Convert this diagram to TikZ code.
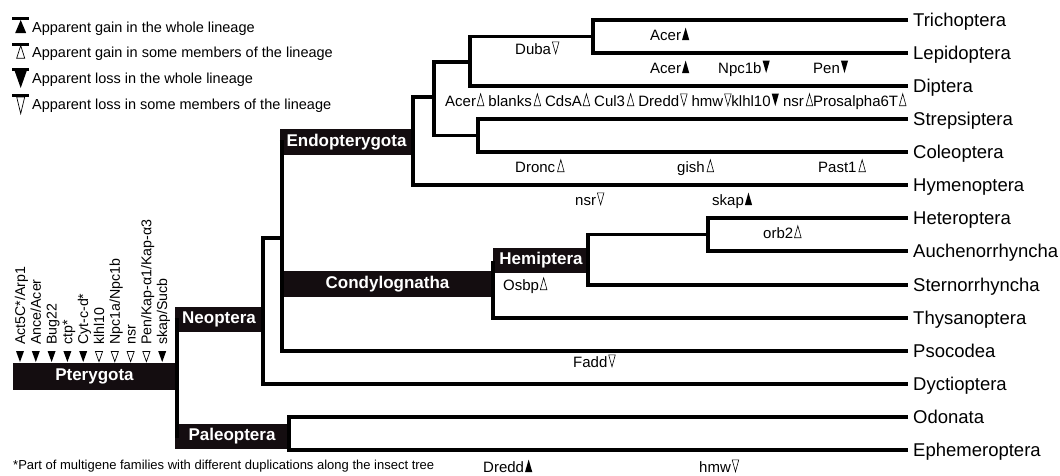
\documentclass[tikz,border=0pt]{standalone}
\usepackage{fontspec}
\setmainfont{Liberation Sans}
\definecolor{boxblack}{HTML}{140D10}
\newcommand\gnF{\tikz[baseline=0pt]\fill (0pt,0pt)--(3.6pt,12.5pt)--(7.2pt,0pt)--cycle;}
\newcommand\gnO{\tikz[baseline=0pt]\draw[line width=0.6pt] (0.3pt,0.3pt)--(3.6pt,12.2pt)--(6.9pt,0.3pt)--cycle;}
\newcommand\lsF{\tikz[baseline=0pt]\fill (0pt,12.5pt)--(3.6pt,0pt)--(7.2pt,12.5pt)--cycle;}
\newcommand\lsO{\tikz[baseline=0pt]\draw[line width=0.6pt] (0.3pt,12.2pt)--(3.6pt,0.3pt)--(6.9pt,12.2pt)--cycle;}
\newcommand\lgGF{\tikz[baseline=0pt]{\fill (0pt,12pt) rectangle (17pt,15pt); \fill (3pt,-1pt)--(8.5pt,12pt)--(14pt,-1pt)--cycle;}}
\newcommand\lgGO{\tikz[baseline=0pt]{\fill (0pt,12pt) rectangle (17pt,15pt); \draw[line width=0.7pt] (4.5pt,-0.65pt)--(8.5pt,12pt)--(12.5pt,-0.65pt)--cycle;}}
\newcommand\lgLF{\tikz[baseline=0pt]{\fill (0pt,12pt) rectangle (17pt,15pt); \fill (2.5pt,12pt)--(8.5pt,-5pt)--(14.5pt,12pt)--cycle;}}
\newcommand\lgLO{\tikz[baseline=0pt]{\fill (0pt,12pt) rectangle (17pt,15pt); \draw[line width=0.7pt] (4.5pt,12pt)--(8.5pt,-4.6pt)--(12.5pt,12pt)--cycle;}}
\begin{document}
\begin{tikzpicture}[x=1pt,y=-1pt,
  br/.style={line width=3.8pt},
  tip/.style={anchor=west, inner xsep=5pt, inner ysep=0pt, text height=13.2pt, text depth=0pt, font=\fontsize{18.5}{21}\selectfont},
  grp/.style={fill=boxblack, text=white, font=\bfseries\fontsize{17}{20}\selectfont, inner sep=0pt, minimum height=26pt},
  gene/.style={anchor=base west, inner sep=0pt, font=\fontsize{15}{17}\selectfont},
  vlab/.style={rotate=90, anchor=base west, inner sep=0pt, font=\fontsize{14.2}{16}\selectfont},
  leg/.style={anchor=base west, inner sep=0pt, font=\fontsize{14.5}{17}\selectfont},
  vtriF/.style={fill=black},
  vtriO/.style={draw=black, line width=0.7pt, fill=white},
]
\useasboundingbox (0,0) rectangle (1060,475);

% legend
\node[leg] (lg1) at (12,32) {\lgGF\kern3pt Apparent gain in the whole lineage};
\node[leg] (lg2) at (12,57.5) {\lgGO\kern3pt Apparent gain in some members of the lineage};
\node[leg] (lg3) at (12,83) {\lgLF\kern3pt Apparent loss in the whole lineage};
\node[leg] (lg4) at (12,109) {\lgLO\kern3pt Apparent loss in some members of the lineage};

% tips
\node[tip] (Tri) at (908,20) {Trichoptera};
\node[tip] (Lep) at (908,53) {Lepidoptera};
\node[tip] (Dip) at (908,86) {Diptera};
\node[tip] (Str) at (908,119) {Strepsiptera};
\node[tip] (Col) at (908,152) {Coleoptera};
\node[tip] (Hym) at (908,185) {Hymenoptera};
\node[tip] (Het) at (908,218) {Heteroptera};
\node[tip] (Auc) at (908,251) {Auchenorrhyncha};
\node[tip] (Ste) at (908,285) {Sternorrhyncha};
\node[tip] (Thy) at (908,318) {Thysanoptera};
\node[tip] (Pso) at (908,351) {Psocodea};
\node[tip] (Dyc) at (908,384) {Dyctioptera};
\node[tip] (Odo) at (908,417) {Odonata};
\node[tip] (Eph) at (908,450) {Ephemeroptera};

% internal nodes
\coordinate (A) at (593,36.5);
\coordinate (B) at (470,62);
\coordinate (C) at (434,97);
\coordinate (D) at (478,135.5);
\coordinate (E) at (413,142);
\coordinate (F) at (282,238);
\coordinate (G) at (493,260.5);
\coordinate (H) at (588,260.5);
\coordinate (I) at (708,234.5);
\coordinate (J) at (263,319.5);
\coordinate (K) at (177,376.5);
\coordinate (L) at (289,436.5);

% group boxes
\node[grp, minimum width=133pt] (Endo) at (346.5,142) {Endopterygota};
\node[grp, minimum width=211pt] (Cond) at (387.5,284) {Condylognatha};
\node[grp, minimum width=97pt, minimum height=25pt] (Hemi) at (541,260.5) {Hemiptera};
\node[grp, minimum width=88pt, minimum height=25pt] (Neo) at (219,319.5) {Neoptera};
\node[grp, minimum width=114pt, minimum height=25pt] (Pal) at (232,436.5) {Paleoptera};
\node[grp, minimum width=163pt, minimum height=27pt] (Pter) at (94.5,376.5) {Pterygota};

% tree
\draw[br] (Tri.west) -| (A) |- (Lep.west);
\draw[br] (A) -| (B) |- (Dip.west);
\draw[br] (B) -| (C) |- (D);
\draw[br] (Str.west) -| (D) |- (Col.west);
\draw[br] (C) -| (E) |- (Hym.west);
\draw[br] (Endo.west) -| (F) |- (Pso.west);
\draw[br] (F) -| (J) |- (Dyc.west);
\draw[br] (G) |- (Thy.west);
\draw[br] (I) -| (H) |- (Ste.west);
\draw[br] (Het.west) -| (I) |- (Auc.west);
\draw[br] (Neo.west) -| (K) |- (Pal.west);
\draw[br] (Odo.west) -| (L) |- (Eph.west);

% gene events
\node[gene] (gDuba) at (515,54) {Duba\kern1pt\lsO};
\node[gene] (gAcer1) at (650,40) {Acer\kern1pt\gnF};
\node[gene] (gAcer2) at (650,73) {Acer\kern1pt\gnF};
\node[gene] (gNpc) at (718,73) {Npc1b\kern1pt\lsF};
\node[gene] (gPen) at (813,73) {Pen\kern1pt\lsF};
\node[gene] (gRow) at (445,106) {Acer\kern1pt\gnO\ blanks\kern2pt\gnO\ CdsA\kern1pt\gnO\ Cul3\kern2pt\gnO\ Dredd\kern1pt\lsO\ hmw\kern1pt\lsO klhl10\kern1pt\lsF\ nsr\kern2pt\gnO Prosalpha6T\kern1pt\gnO};
\node[gene] (gDronc) at (515,172) {Dronc\kern2pt\gnO};
\node[gene] (gGish) at (677,172) {gish\kern2pt\gnO};
\node[gene] (gPast) at (818,172) {Past1\kern2pt\gnO};
\node[gene] (gNsr) at (575,205) {nsr\kern1pt\lsO};
\node[gene] (gSkap) at (712,205) {skap\kern1pt\gnF};
\node[gene] (gOrb) at (763,238) {orb2\kern1pt\gnO};
\node[gene] (gOsbp) at (503,290) {Osbp\kern1pt\gnO};
\node[gene] (gFadd) at (573,367) {Fadd\kern1pt\lsO};
\node[gene] (gDredd) at (483,472) {Dredd\kern1pt\gnF};
\node[gene] (gHmw) at (699,472) {hmw\kern1pt\lsO};

% Pterygota events (vertical labels)
\node[vlab] (v1) at (25,345) {Act5C*/Arp1};
\node[vlab] (v2) at (40.8,345) {Ance/Acer};
\node[vlab] (v3) at (56.6,345) {Bug22};
\node[vlab] (v4) at (72.4,345) {ctp*};
\node[vlab] (v5) at (88.2,345) {Cyt-c-d*};
\node[vlab] (v6) at (104,345) {klhl10};
\node[vlab] (v7) at (119.8,345) {Npc1a/Npc1b};
\node[vlab] (v8) at (135.6,345) {nsr};
\node[vlab] (v9) at (151.4,345) {Pen/Kap-α1/Kap-α3};
\node[vlab] (v10) at (167.2,345) {skap/Sucb};
\path[vtriF] (16,351) -- (24,351) -- (20,362) -- cycle;
\path[vtriF] (31.8,351) -- (39.8,351) -- (35.8,362) -- cycle;
\path[vtriF] (47.6,351) -- (55.6,351) -- (51.6,362) -- cycle;
\path[vtriF] (63.4,351) -- (71.4,351) -- (67.4,362) -- cycle;
\path[vtriF] (79.2,351) -- (87.2,351) -- (83.2,362) -- cycle;
\path[vtriO] (95.4,351.4) -- (102.6,351.4) -- (99,361.6) -- cycle;
\path[vtriO] (111.2,351.4) -- (118.4,351.4) -- (114.8,361.6) -- cycle;
\path[vtriO] (127,351.4) -- (134.2,351.4) -- (130.6,361.6) -- cycle;
\path[vtriO] (142.8,351.4) -- (150,351.4) -- (146.4,361.6) -- cycle;
\path[vtriF] (158.2,351) -- (166.2,351) -- (162.2,362) -- cycle;

% footnote
\node[anchor=base west, inner sep=0pt, font=\fontsize{13}{15}\selectfont] (fn) at (13,469) {*Part of multigene families with different duplications along the insect tree};
\end{tikzpicture}
\end{document}
